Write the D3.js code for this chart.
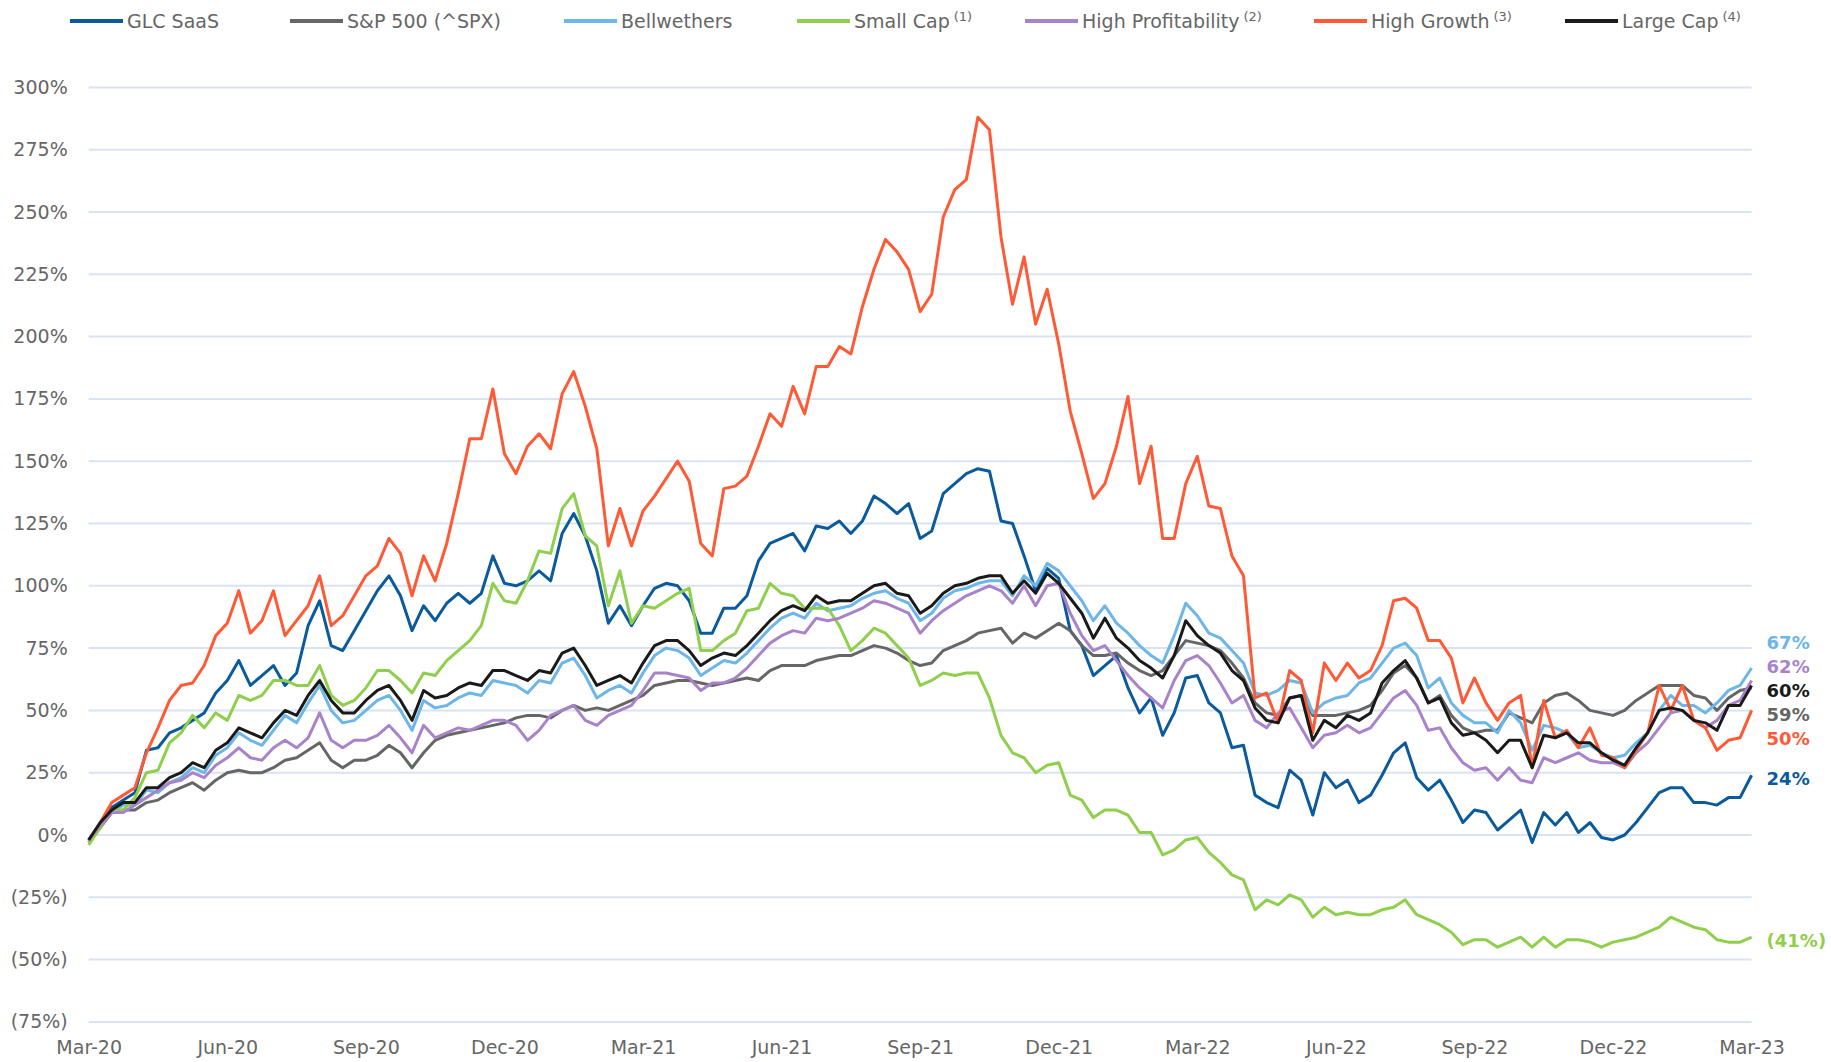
<!DOCTYPE html>
<html>
<head>
<meta charset="utf-8">
<script src="https://cdn.jsdelivr.net/npm/d3@7"></script>
<style>
  body { margin: 0; background: #fff; }
  text { font-family: "DejaVu Sans", sans-serif; }
</style>
</head>
<body>
<script>
// x positions: months since Mar-20, sampled roughly weekly
var months = d3.range(0, 36.001, 0.25);
var tickMonths = [0, 3, 6, 9, 12, 15, 18, 21, 24, 27, 30, 33, 36];
var tickLabels = ["Mar-20", "Jun-20", "Sep-20", "Dec-20", "Mar-21", "Jun-21", "Sep-21",
                  "Dec-21", "Mar-22", "Jun-22", "Sep-22", "Dec-22", "Mar-23"];
var yTicks = [-75, -50, -25, 0, 25, 50, 75, 100, 125, 150, 175, 200, 225, 250, 275, 300];

var seriesNames = ["GLC SaaS", "S&P 500 (^SPX)", "Bellwethers", "Small Cap", "High Profitability", "High Growth", "Large Cap"];
var seriesNotes = ["", "", "", "(1)", "(2)", "(3)", "(4)"];
var seriesColors = ["#0b5a9c", "#666666", "#6cb6e8", "#8fcf4c", "#a983c9", "#ff5a36", "#1a1a1a"];

// % change, one value per sample
var glcSaas = [
  -3, 3, 11, 14, 17, 34, 35, 41, 43, 46, 49, 57,
  62, 70, 60, 64, 68, 60, 65, 84, 94, 76, 74, 82,
  90, 98, 104, 96, 82, 92, 86, 93, 97, 93, 97, 112,
  101, 100, 102, 106, 102, 121, 129, 120, 106, 85, 92, 84,
  92, 99, 101, 100, 94, 81, 81, 91, 91, 96, 110, 117,
  119, 121, 114, 124, 123, 126, 121, 126, 136, 133, 129, 133,
  119, 122, 137, 141, 145, 147, 146, 126, 125, 112, 98, 107,
  103, 82, 76, 64, 68, 72, 59, 49, 55, 40, 49, 63,
  64, 53, 49, 35, 36, 16, 13, 11, 26, 22, 8, 25,
  19, 22, 13, 16, 24, 33, 37, 23, 18, 22, 14, 5,
  10, 9, 2, 6, 10, -3, 9, 4, 9, 1, 5, -1,
  -2, 0, 5, 11, 17, 19, 19, 13, 13, 12, 15, 15,
  24];
var sp500 = [
  -2, 3, 9, 10, 10, 13, 14, 17, 19, 21, 18, 22,
  25, 26, 25, 25, 27, 30, 31, 34, 37, 30, 27, 30,
  30, 32, 36, 33, 27, 33, 38, 40, 41, 42, 43, 44,
  45, 47, 48, 48, 47, 50, 52, 50, 51, 50, 52, 54,
  56, 60, 61, 62, 62, 61, 60, 61, 62, 63, 62, 66,
  68, 68, 68, 70, 71, 72, 72, 74, 76, 75, 73, 70,
  68, 69, 74, 76, 78, 81, 82, 83, 77, 81, 79, 82,
  85, 82, 76, 72, 72, 73, 69, 66, 64, 66, 72, 78,
  77, 76, 74, 69, 63, 53, 49, 48, 55, 56, 48, 48,
  48, 49, 50, 52, 58, 65, 68, 63, 53, 56, 48, 43,
  41, 42, 42, 49, 47, 45, 53, 56, 57, 54, 50, 49,
  48, 50, 54, 57, 60, 60, 60, 56, 55, 50, 55, 58,
  59];
var bellwethers = [
  -3, 4, 9, 12, 12, 18, 17, 21, 23, 27, 25, 32,
  35, 41, 38, 36, 42, 48, 45, 53, 60, 50, 45, 46,
  50, 54, 56, 50, 42, 54, 51, 52, 55, 57, 56, 62,
  61, 60, 57, 62, 61, 69, 71, 64, 55, 58, 60, 57,
  65, 72, 75, 74, 71, 64, 67, 70, 69, 73, 78, 83,
  87, 89, 87, 93, 90, 91, 92, 95, 97, 98, 95, 93,
  86, 89, 95, 98, 99, 101, 102, 102, 96, 104, 100, 109,
  106, 100, 94, 86, 92, 85, 81, 76, 72, 69, 80, 93,
  88, 81, 79, 74, 69, 57, 56, 58, 62, 61, 49, 53,
  55, 56, 61, 63, 69, 75, 77, 72, 59, 63, 53, 48,
  45, 45, 41, 50, 45, 34, 44, 43, 41, 35, 36, 33,
  31, 32, 37, 41, 50, 56, 52, 52, 49, 53, 58, 60,
  67];
var smallCap = [
  -4, 3, 10, 10, 15, 25, 26, 37, 41, 48, 43, 49,
  46, 56, 54, 56, 62, 62, 60, 60, 68, 56, 52, 54,
  59, 66, 66, 62, 57, 65, 64, 70, 74, 78, 84, 101,
  94, 93, 102, 114, 113, 131, 137, 120, 116, 92, 106, 85,
  92, 91, 94, 97, 99, 74, 74, 78, 81, 90, 91, 101,
  97, 96, 91, 91, 91, 84, 74, 78, 83, 81, 76, 71,
  60, 62, 65, 64, 65, 65, 55, 40, 33, 31, 25, 28,
  29, 16, 14, 7, 10, 10, 8, 1, 1, -8, -6, -2,
  -1, -7, -11, -16, -18, -30, -26, -28, -24, -26, -33, -29,
  -32, -31, -32, -32, -30, -29, -26, -32, -34, -36, -39, -44,
  -42, -42, -45, -43, -41, -45, -41, -45, -42, -42, -43, -45,
  -43, -42, -41, -39, -37, -33, -35, -37, -38, -42, -43, -43,
  -41];
var highProfit = [
  -2, 4, 9, 9, 12, 15, 18, 21, 22, 25, 23, 28,
  31, 35, 31, 30, 35, 38, 35, 39, 49, 38, 35, 38,
  38, 40, 44, 39, 33, 44, 39, 41, 43, 42, 44, 46,
  46, 44, 38, 42, 48, 50, 52, 46, 44, 48, 50, 52,
  58, 65, 65, 64, 63, 58, 61, 61, 63, 67, 72, 77,
  80, 82, 81, 87, 86, 87, 89, 91, 94, 93, 91, 89,
  81, 86, 90, 93, 96, 98, 100, 98, 93, 100, 92, 100,
  101, 89, 80, 74, 76, 70, 64, 59, 55, 51, 62, 70,
  72, 68, 61, 53, 56, 46, 43, 49, 51, 43, 35, 40,
  41, 44, 41, 43, 49, 55, 58, 52, 42, 43, 35, 29,
  26, 27, 22, 27, 22, 21, 31, 29, 31, 33, 30, 29,
  29, 27, 33, 37, 43, 49, 50, 46, 43, 46, 52, 54,
  62];
var highGrowth = [
  -2, 5, 13, 16, 19, 33, 43, 54, 60, 61, 68, 80,
  85, 98, 81, 86, 98, 80, 86, 92, 104, 84, 88, 96,
  104, 108, 119, 113, 96, 112, 102, 117, 137, 159, 159, 179,
  153, 145, 156, 161, 155, 177, 186, 172, 155, 116, 131, 116,
  130, 136, 143, 150, 142, 117, 112, 139, 140, 144, 156, 169,
  164, 180, 169, 188, 188, 196, 193, 212, 227, 239, 234, 227,
  210, 217, 248, 259, 263, 288, 283, 240, 213, 232, 205, 219,
  197, 170, 153, 135, 141, 156, 176, 141, 156, 119, 119, 141,
  152, 132, 131, 112, 104, 55, 57, 45, 66, 62, 41, 69,
  62, 69, 63, 66, 76, 94, 95, 91, 78, 78, 71, 53,
  63, 53, 46, 53, 56, 27, 54, 39, 42, 35, 43, 32,
  31, 27, 34, 41, 60, 50, 60, 46, 43, 34, 38, 39,
  50];
var largeCap = [
  -2, 5, 10, 13, 13, 19, 19, 23, 25, 29, 27, 34,
  37, 43, 41, 39, 45, 50, 48, 56, 62, 54, 49, 49,
  54, 58, 60, 54, 46, 58, 55, 56, 59, 61, 60, 66,
  66, 64, 62, 66, 65, 73, 75, 68, 60, 62, 64, 61,
  69, 76, 78, 78, 74, 68, 71, 73, 72, 76, 81, 86,
  90, 92, 90, 96, 93, 94, 94, 97, 100, 101, 97, 96,
  89, 92, 97, 100, 101, 103, 104, 104, 97, 102, 97, 105,
  101, 95, 89, 79, 87, 79, 75, 70, 67, 63, 72, 86,
  80, 76, 73, 66, 62, 51, 46, 45, 55, 56, 38, 46,
  43, 48, 46, 49, 61, 66, 70, 63, 53, 55, 45, 40,
  41, 38, 33, 38, 38, 27, 40, 39, 41, 37, 37, 33,
  30, 28, 35, 41, 50, 51, 50, 46, 45, 42, 52, 52,
  60];

var seriesValues = [glcSaas, sp500, bellwethers, smallCap, highProfit, highGrowth, largeCap];

var width = 1831, height = 1062;
var legendX = [70, 290, 564, 797, 1025, 1314, 1565];

var svg = d3.select("body").append("svg")
    .attr("width", width)
    .attr("height", height);

var x = d3.scaleLinear().domain([0, 36]).range([88.7, 1751.6]),
    y = d3.scaleLinear().domain([-75, 300]).range([1021.9, 87.4]);

function pct(v) {
  return v < 0 ? "(" + (-v) + "%)" : v + "%";
}

// gridlines
svg.append("g")
  .selectAll("line")
  .data(yTicks)
  .join("line")
    .attr("x1", x(0))
    .attr("x2", x(36))
    .attr("y1", function (d) { return y(d); })
    .attr("y2", function (d) { return y(d); })
    .attr("stroke", "#dae3f1")
    .attr("stroke-width", 2);

var yAxis = svg.append("g")
    .attr("transform", "translate(" + x(0) + ",0)")
    .call(d3.axisLeft(y).tickValues(yTicks).tickSize(0).tickPadding(21).tickFormat(pct));
yAxis.select(".domain").remove();
yAxis.selectAll("text")
    .attr("font-size", 19)
    .attr("font-family", "DejaVu Sans")
    .attr("fill", "#666666");

var xAxis = svg.append("g")
    .attr("transform", "translate(0," + y(-75) + ")")
    .call(d3.axisBottom(x).tickValues(tickMonths).tickSize(0).tickPadding(19)
      .tickFormat(function (d, i) { return tickLabels[i]; }));
xAxis.select(".domain").remove();
xAxis.selectAll("text")
    .attr("font-size", 19)
    .attr("font-family", "DejaVu Sans")
    .attr("fill", "#666666");

var line = d3.line()
    .x(function (d, i) { return x(months[i]); })
    .y(function (d) { return y(d); });

svg.append("g")
  .selectAll("path")
  .data(seriesValues)
  .join("path")
    .attr("fill", "none")
    .attr("stroke", function (d, i) { return seriesColors[i]; })
    .attr("stroke-width", 3)
    .attr("stroke-linejoin", "round")
    .attr("d", line);

// legend
var legend = svg.append("g")
  .selectAll("g")
  .data(seriesNames)
  .join("g")
    .attr("transform", function (d, i) { return "translate(" + legendX[i] + ",21)"; });

legend.append("line")
    .attr("x1", 0).attr("x2", 53)
    .attr("stroke", function (d, i) { return seriesColors[i]; })
    .attr("stroke-width", 4);

var lt = legend.append("text")
    .attr("x", 57)
    .attr("dy", "0.35em")
    .attr("font-size", 19)
    .attr("fill", "#666666")
    .text(function (d) { return d; });

lt.append("tspan")
    .attr("dx", 4)
    .attr("dy", "-0.55em")
    .attr("font-size", 13)
    .text(function (d, i) { return seriesNotes[i]; });

// end labels, nudged apart where they crowd
var ends = seriesValues.map(function (s, i) {
  var v = s[s.length - 1];
  return { v: v, y0: y(v), color: seriesColors[i] };
});
ends.sort(function (a, b) { return a.y0 - b.y0; });
var gap = 24;
var groups = ends.map(function (d) { return { m: [d], top: d.y0 }; });
var merged = true;
while (merged) {
  merged = false;
  for (var i = 1; i < groups.length; i++) {
    var a = groups[i - 1], b = groups[i];
    if (a.top + a.m.length * gap > b.top) {
      a.m = a.m.concat(b.m);
      a.top = d3.mean(a.m, function (d) { return d.y0; }) - (a.m.length - 1) * gap / 2;
      groups.splice(i, 1);
      merged = true;
      break;
    }
  }
}
groups.forEach(function (g) {
  g.m.forEach(function (d, k) { d.y = g.top + k * gap + 4; });
});

svg.append("g")
  .selectAll("text")
  .data(ends)
  .join("text")
    .attr("x", x(36) + 15)
    .attr("y", function (d) { return d.y; })
    .attr("dy", "0.35em")
    .attr("font-size", 18)
    .attr("font-weight", "bold")
    .attr("fill", function (d) { return d.color; })
    .text(function (d) { return pct(d.v); });
</script>
</body>
</html>
